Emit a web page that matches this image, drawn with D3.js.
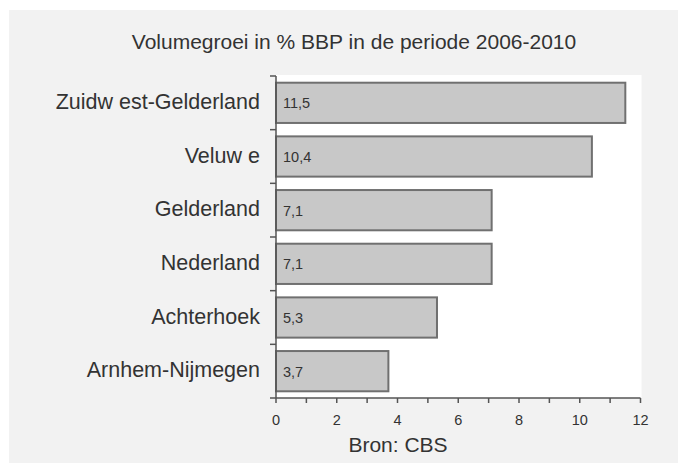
<!DOCTYPE html>
<html><head><meta charset="utf-8">
<script src="https://cdn.jsdelivr.net/npm/d3@7"></script>
<style>body{margin:0;background:#fff}svg{display:block}text{font-family:"Liberation Sans",Arial,sans-serif;fill:#333}</style>
</head><body><svg id="c" width="678" height="463"></svg>
<script>
const categories = ["Zuidw est-Gelderland","Veluw e","Gelderland","Nederland","Achterhoek","Arnhem-Nijmegen"];
const values = [11.5,10.4,7.1,7.1,5.3,3.7];
const valueLabels = ["11,5","10,4","7,1","7,1","5,3","3,7"];
const xTicks = [0,1,2,3,4,5,6,7,8,9,10,11,12];
const title = "Volumegroei in % BBP in de periode 2006-2010";
const source = "Bron: CBS";

const svg = d3.select("#c");
svg.append("rect").attr("x",9).attr("y",10).attr("width",669).attr("height",453).attr("fill","#f2f2f2");
const L=276,R=640.5,T=76,B=398;
svg.append("rect").attr("x",L).attr("y",T-1).attr("width",R-L+1).attr("height",B-T+1).attr("fill","#fff");

const x = d3.scaleLinear().domain([0,12]).range([L,R]);
const y = d3.scaleBand().domain(categories).range([T,B]).paddingInner(0.25).paddingOuter(0.125);

svg.selectAll("rect.bar").data(values).join("rect").attr("class","bar")
  .attr("x",x(0)).attr("y",(d,i)=>y(categories[i]))
  .attr("width",d=>x(d)-x(0)).attr("height",y.bandwidth())
  .attr("fill","#c8c8c8").attr("stroke","#707070").attr("stroke-width",2);

svg.selectAll("text.vl").data(valueLabels).join("text").attr("class","vl")
  .attr("x",x(0)+7).attr("y",(d,i)=>y(categories[i])+y.bandwidth()/2+5.5)
  .attr("font-size",14.5).text(d=>d);

// y axis
const yTickPos = d3.range(categories.length+1).map(i=>T+i*(B-T)/categories.length);
const ax = svg.append("g").attr("stroke","#555").attr("stroke-width",1.5);
ax.append("line").attr("x1",L).attr("x2",L).attr("y1",T).attr("y2",B);
ax.selectAll("line.yt").data(yTickPos).join("line").attr("class","yt")
  .attr("x1",L-6).attr("x2",L).attr("y1",d=>d).attr("y2",d=>d);
// x axis
ax.append("line").attr("x1",L).attr("x2",R).attr("y1",B).attr("y2",B);
ax.selectAll("line.xt").data(xTicks).join("line").attr("class","xt")
  .attr("x1",d=>x(d)).attr("x2",d=>x(d)).attr("y1",B).attr("y2",B+5);

svg.selectAll("text.xl").data(xTicks.filter(d=>d%2===0)).join("text").attr("class","xl")
  .attr("x",d=>x(d)).attr("y",425).attr("text-anchor","middle").attr("font-size",14.5).text(d=>d);

svg.selectAll("text.cat").data(categories).join("text").attr("class","cat")
  .attr("x",260).attr("y",d=>y(d)+y.bandwidth()/2+6)
  .attr("text-anchor","end").attr("font-size",21.5).text(d=>d);

svg.append("text").attr("x",354).attr("y",49).attr("text-anchor","middle").attr("font-size",21).text(title);
svg.append("text").attr("x",398).attr("y",452).attr("text-anchor","middle").attr("font-size",21).text(source);
</script></body></html>
